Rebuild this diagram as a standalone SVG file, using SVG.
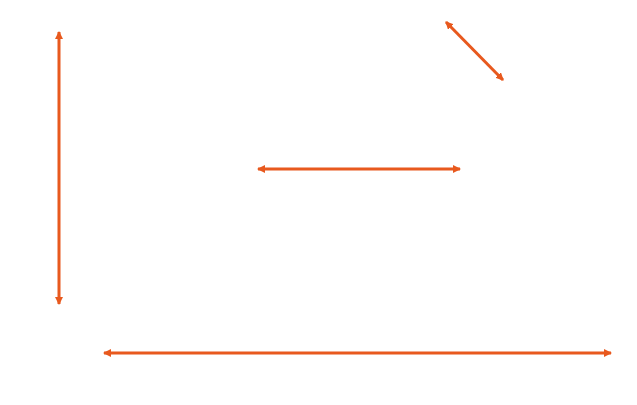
<svg xmlns="http://www.w3.org/2000/svg" width="637" height="405" viewBox="0 0 637 405">
<style>
.c{stroke:#E8591E;stroke-width:3;fill:none;marker-start:url(#a);marker-end:url(#a)}
</style>
<defs>
<marker id="a" viewBox="0 0 8 8" refX="7" refY="4" markerWidth="8" markerHeight="8" markerUnits="userSpaceOnUse" orient="auto-start-reverse">
<path d="M0,0 L8,4 L0,8 Z" fill="#E8591E"/>
</marker>
</defs>
<rect width="637" height="405" fill="#fff"/>
<g id="connectors">
<line class="c" x1="59" y1="32" x2="59" y2="304"/>
<line class="c" x1="446" y1="22" x2="503" y2="80"/>
<line class="c" x1="258" y1="169" x2="460" y2="169"/>
<line class="c" x1="104" y1="353" x2="611" y2="353"/>
</g>
</svg>
